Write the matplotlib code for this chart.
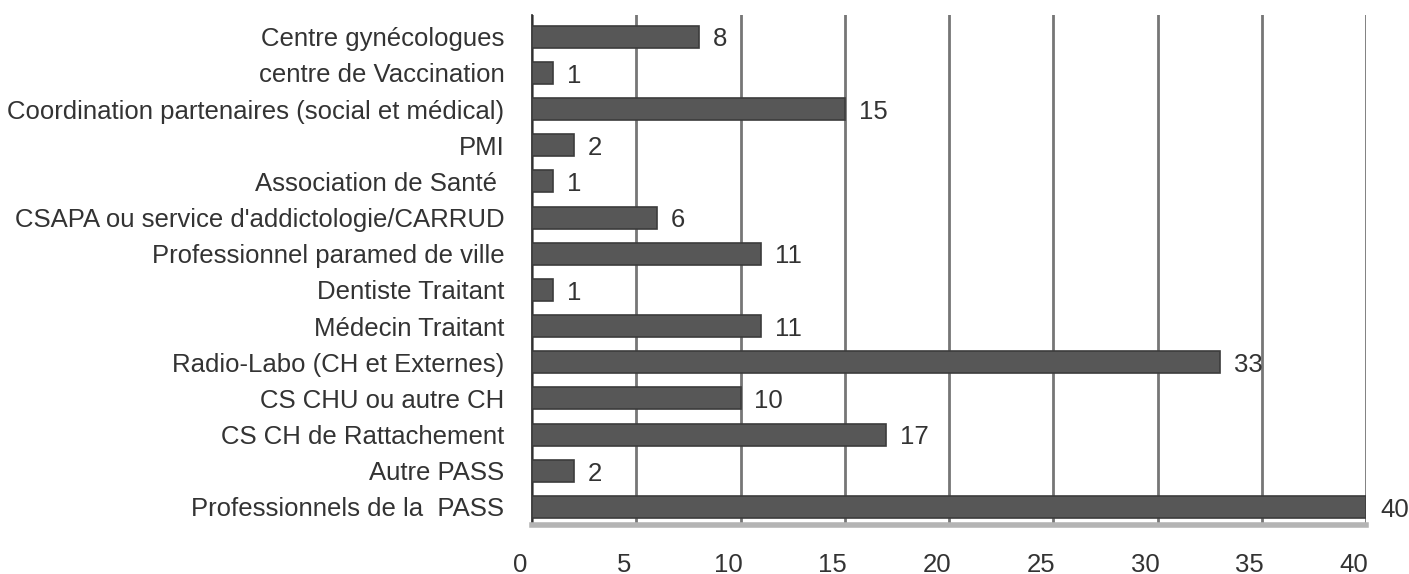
import matplotlib
matplotlib.use("Agg")
import matplotlib.pyplot as plt
from matplotlib.transforms import ScaledTranslation

plt.rcParams['font.family'] = ['Liberation Sans', 'DejaVu Sans']

categories = [
    "Professionnels de la  PASS",
    "Autre PASS",
    "CS CH de Rattachement",
    "CS CHU ou autre CH",
    "Radio-Labo (CH et Externes)",
    "Médecin Traitant",
    "Dentiste Traitant",
    "Professionnel paramed de ville",
    "CSAPA ou service d'addictologie/CARRUD",
    "Association de Santé ",
    "PMI",
    "Coordination partenaires (social et médical)",
    "centre de Vaccination",
    "Centre gynécologues",
]
values = [40, 2, 17, 10, 33, 11, 1, 11, 6, 1, 2, 15, 1, 8]
xticks = [0, 5, 10, 15, 20, 25, 30, 35, 40]

FS = 18.5

fig = plt.figure(figsize=(14.09, 5.74), dpi=100)
ax = fig.add_axes([0.3776, 0.0854, 0.5919, 0.8885])

ypos = list(range(len(categories)))
ax.barh(ypos, values, height=0.61, color='#575757', edgecolor='#3c3c3c',
        linewidth=1.2, zorder=3)

for y, v in zip(ypos, values):
    ax.annotate(str(v), xy=(v, y), xytext=(10, -2), textcoords='offset points',
                ha='left', va='center', fontsize=FS, color='#333333', zorder=4)

ax.set_xlim(0, 40)
ax.set_ylim(-0.5, 13.6)
ax.set_yticks(ypos)
ax.set_yticklabels(categories, fontsize=FS, color='#333333')
ax.set_xticks(xticks)
ax.set_xticklabels([str(t) for t in xticks], fontsize=FS, color='#333333')
ax.tick_params(axis='y', length=0, pad=20)
ax.tick_params(axis='x', length=0, pad=20)
shift = ScaledTranslation(-12 / 100, 0, fig.dpi_scale_trans)
for lbl in ax.get_xticklabels():
    lbl.set_transform(lbl.get_transform() + shift)

ax.grid(axis='x', color='#767676', linewidth=2.0, zorder=1)
ax.grid(axis='y', visible=False)

for side in ('top', 'right'):
    ax.spines[side].set_visible(False)
ax.spines['left'].set_color('#222222')
ax.spines['left'].set_linewidth(1.2)
ax.spines['bottom'].set_color('#b4b4b4')
ax.spines['bottom'].set_linewidth(4)

fig.savefig("out.png", dpi=100, facecolor='white')
